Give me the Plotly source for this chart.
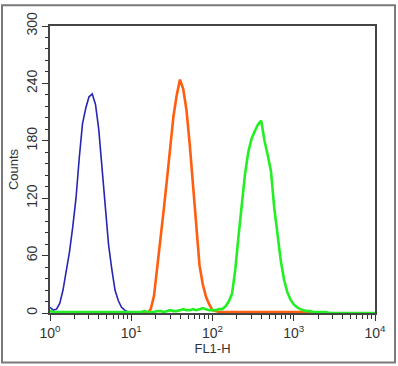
import plotly.graph_objects as go

# Histogram channels: log10(FL1-H) bin positions, 0.04 decade per channel
BIN_STEP = 0.04

blue_start = 0.0
blue_counts = [6, 3, 4, 10, 24, 42, 64, 90, 120, 162, 198, 214, 226, 229, 218,
               192, 152, 110, 72, 46, 24, 13, 6, 3, 1, 0, 0]

orange_start = 1.0
orange_counts = [0, 0, 0, 0, 0, 0, 4, 18, 48, 76, 108, 140, 176, 206, 228, 244,
                 234, 212, 176, 135, 89, 50, 30, 17, 9, 3, 2,
                 1, 1, 1, 1, 1, 1, 1, 1, 1, 1, 1, 1, 1, 1, 1, 1, 1, 1, 1, 1,
                 1, 1, 1, 1, 1, 1, 1, 1, 0, 0, 0]

green_start = 0.0
green_counts = [2, 1, 1, 1, 1, 1, 1, 1, 1, 1, 1, 1, 1, 1, 1, 1, 1, 1, 1, 1,
                1, 1, 1, 1, 1, 1, 1, 1, 1, 2, 1, 1, 1, 2, 2, 1, 2, 3, 2, 2,
                3, 4, 3, 3, 4, 3, 4, 5, 4, 3,
                3, 3, 4, 4, 7, 12, 20, 45, 80, 110, 145, 168, 182, 190, 197, 201,
                180, 165, 148, 110, 83, 55, 35, 22, 14, 9, 6, 4, 3, 2, 2,
                1, 1, 1, 1, 1, 0, 0, 0, 0, 0, 0, 0, 0, 0, 0, 0, 0, 0, 0, 0]

x_tick_exp = [0, 1, 2, 3, 4]
y_tick_vals = [0, 60, 120, 180, 240, 300]

series = [
    ("blue", blue_start, blue_counts, "#2626b4", 1.6),
    ("orange", orange_start, orange_counts, "#ff5e0e", 2.6),
    ("green", green_start, green_counts, "#22f022", 2.6),
]

fig = go.Figure()
for name, start, counts, color, w in series:
    xs = [10 ** (start + BIN_STEP * i) for i in range(len(counts))]
    fig.add_trace(go.Scatter(x=xs, y=counts, mode="lines", name=name,
                             line=dict(color=color, width=w, shape="linear"),
                             showlegend=False, hoverinfo="skip"))

minor_vals = [m * 10 ** d for d in range(4) for m in range(2, 10)]

fig.update_layout(
    width=398, height=366,
    margin=dict(l=50, r=23, t=23, b=53),
    paper_bgcolor="white", plot_bgcolor="white",
    font=dict(family="Liberation Sans, Arial, sans-serif", color="#333333", size=13),
    showlegend=False,
    xaxis=dict(
        type="log", range=[0, 4],
        tickvals=[10 ** e for e in x_tick_exp],
        ticktext=[f"10<sup>{e}</sup>" for e in x_tick_exp],
        ticks="outside", ticklen=6, tickwidth=1, tickcolor="#333",
        minor=dict(tickvals=minor_vals, ticks="outside", ticklen=4, tickcolor="#333", showgrid=False),
        showline=True, linecolor="#444", linewidth=1.5, mirror=True,
        showgrid=False, zeroline=False,
        title=dict(text="FL1-H", font=dict(size=13), standoff=2),
        tickfont=dict(size=14),
    ),
    yaxis=dict(
        range=[0, 300],
        tickvals=y_tick_vals,
        ticktext=[str(v) for v in y_tick_vals],
        tickangle=-90,
        ticks="outside", ticklen=6, tickwidth=1, tickcolor="#333",
        minor=dict(dtick=12, ticks="outside", ticklen=3, tickcolor="#333", showgrid=False),
        showline=True, linecolor="#444", linewidth=1.5, mirror=True,
        showgrid=False, zeroline=False,
        title=dict(text="Counts", font=dict(size=13), standoff=2),
        tickfont=dict(size=14),
    ),
    shapes=[dict(type="rect", xref="paper", yref="paper",
                 x0=(2 - 50) / 325, x1=(395 - 50) / 325,
                 y0=(313 - 363) / 290, y1=(313 - 2) / 290,
                 line=dict(color="#7a7a7a", width=2), fillcolor="rgba(0,0,0,0)",
                 layer="below")],
)

fig.write_html("out.html", config={"displayModeBar": False},
               post_script="document.body.style.margin='0';")
